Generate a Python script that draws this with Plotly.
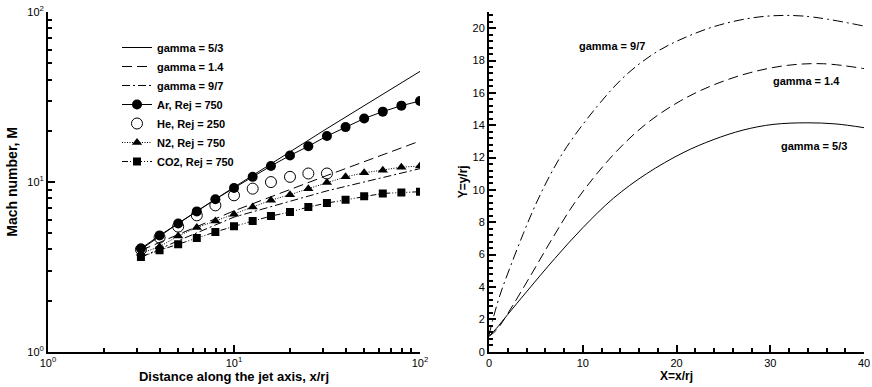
import plotly.graph_objects as go

# ---------------- Left panel data (log-log) ----------------
x_pts = [3.16, 3.98, 5.01, 6.31, 7.94, 10.0, 12.6, 15.8, 20.0, 25.1, 31.6, 39.8, 50.1, 63.1, 79.4, 100.0]
ar_M = [4.05, 4.84, 5.68, 6.7, 7.9, 9.2, 10.7, 12.4, 14.3, 16.2, 18.6, 21.0, 23.6, 25.9, 28.1, 29.9]
he_x = x_pts[:11]
he_M = [4.0, 4.7, 5.45, 6.35, 7.27, 8.33, 9.12, 9.97, 10.7, 11.2, 11.2]
n2_M = [3.8, 4.15, 4.8, 5.38, 5.88, 6.44, 7.11, 7.8, 8.4, 9.12, 9.9, 10.7, 11.3, 11.7, 12.2, 12.4]
co2_M = [3.61, 3.96, 4.29, 4.67, 5.07, 5.47, 5.88, 6.29, 6.64, 7.11, 7.5, 7.85, 8.22, 8.55, 8.65, 8.75]

g_x = [3.16, 5.01, 10.0, 31.6, 100.0]
g53_M = [4.0, 5.7, 9.3, 20.6, 44.7]
g14_M = [3.95, 4.9, 6.75, 10.9, 17.4]
g97_M = [3.6, 4.5, 6.2, 8.85, 11.96]

# ---------------- Right panel data ----------------
r53_x = [0, 0.8, 2, 4, 7, 10, 13.3, 16.8, 20.7, 23.9, 27.1, 30.3, 33.9, 37, 40]
r53_y = [0.95, 1.45, 2.3, 3.7, 5.75, 7.66, 9.5, 11.0, 12.3, 13.1, 13.7, 14.05, 14.15, 14.08, 13.85]
r14_x = [0, 0.8, 2.24, 4.37, 6.86, 9.35, 13.3, 16.8, 20.4, 23.9, 27.8, 31.8, 35.7, 40]
r14_y = [0.95, 1.34, 2.58, 4.64, 7.1, 9.38, 12.2, 14.1, 15.5, 16.48, 17.24, 17.7, 17.8, 17.5]
r97_x = [0, 0.46, 1.17, 2.24, 3.66, 4.9, 6.5, 8.3, 11.5, 14.6, 17.9, 21.1, 24.6, 28.9, 33.5, 40]
r97_y = [1.0, 2.1, 3.5, 5.2, 7.3, 9.0, 10.9, 12.67, 15.14, 17.1, 18.54, 19.47, 20.2, 20.7, 20.75, 20.13]

log_tickvals = [1, 10, 100]
log_ticktext = ["10<sup>0</sup>", "10<sup>1</sup>", "10<sup>2</sup>"]
log_minor = [2, 3, 4, 5, 6, 7, 8, 9, 20, 30, 40, 50, 60, 70, 80, 90]

FONT = "Liberation Sans, Arial, sans-serif"
DASH = "10px,5px"
DASHDOT = "8px,3px,2px,3px"
DOT = "1px,1.5px"
DASHDOTDOT = "6px,2px,1px,2px,1px,2px"

fig = go.Figure()

fig.add_trace(go.Scatter(x=g_x, y=g53_M, mode="lines", name="<b>gamma = 5/3</b>",
                         line=dict(color="black", width=1), xaxis="x", yaxis="y"))
fig.add_trace(go.Scatter(x=g_x, y=g14_M, mode="lines", name="<b>gamma = 1.4</b>",
                         line=dict(color="black", width=1, dash=DASH), xaxis="x", yaxis="y"))
fig.add_trace(go.Scatter(x=g_x, y=g97_M, mode="lines", name="<b>gamma = 9/7</b>",
                         line=dict(color="black", width=1, dash=DASHDOT), xaxis="x", yaxis="y"))
fig.add_trace(go.Scatter(x=x_pts, y=ar_M, mode="lines+markers", name="<b>Ar, Rej = 750</b>",
                         line=dict(color="black", width=1),
                         marker=dict(symbol="circle", size=10, color="black"), xaxis="x", yaxis="y"))
fig.add_trace(go.Scatter(x=he_x, y=he_M, mode="markers", name="<b>He, Rej = 250</b>",
                         marker=dict(symbol="circle-open", size=11, color="black", line=dict(width=1)),
                         xaxis="x", yaxis="y"))
fig.add_trace(go.Scatter(x=x_pts, y=n2_M, mode="lines+markers", name="<b>N2, Rej = 750</b>",
                         line=dict(color="black", width=1, dash=DOT),
                         marker=dict(symbol="triangle-up", size=9, color="black"), xaxis="x", yaxis="y"))
fig.add_trace(go.Scatter(x=x_pts, y=co2_M, mode="lines+markers", name="<b>CO2, Rej = 750</b>",
                         line=dict(color="black", width=1, dash=DASHDOTDOT),
                         marker=dict(symbol="square", size=8, color="black"), xaxis="x", yaxis="y"))

fig.add_trace(go.Scatter(x=r53_x, y=r53_y, mode="lines", showlegend=False, line_shape="spline",
                         line=dict(color="black", width=1), xaxis="x2", yaxis="y2"))
fig.add_trace(go.Scatter(x=r14_x, y=r14_y, mode="lines", showlegend=False, line_shape="spline",
                         line=dict(color="black", width=1, dash=DASH), xaxis="x2", yaxis="y2"))
fig.add_trace(go.Scatter(x=r97_x, y=r97_y, mode="lines", showlegend=False, line_shape="spline",
                         line=dict(color="black", width=1, dash="10px,4px,2px,4px"), xaxis="x2", yaxis="y2"))

W, H = 872, 387


def px_x(p):
    return p / W


def px_y(p):
    return 1 - p / H


y_dom = [px_y(351.7), px_y(12)]

axis_common = dict(showgrid=False, zeroline=False, showline=True, linecolor="black", linewidth=2,
                   ticks="inside", ticklen=7, tickwidth=2, tickcolor="black", automargin=False,
                   ticklabeloverflow="allow",
                   tickfont=dict(family=FONT, size=11, color="black"), mirror=False)

fig.update_layout(
    width=W, height=H,
    margin=dict(l=0, r=0, t=0, b=0, pad=0),
    paper_bgcolor="white", plot_bgcolor="white",
    font=dict(family=FONT, color="black"),
    xaxis=dict(type="log", range=[0, 2], domain=[px_x(48), px_x(420)], anchor="y",
               tickvals=log_tickvals, ticktext=log_ticktext,
               minor=dict(tickvals=log_minor, ticks="inside", ticklen=4, tickwidth=1.5, tickcolor="black", showgrid=False),
               title=dict(text="<b>Distance along the jet axis, x/rj</b>", font=dict(family=FONT, size=13), standoff=3),
               **axis_common),
    yaxis=dict(type="log", range=[0, 2], domain=y_dom, anchor="x",
               tickvals=log_tickvals, ticktext=log_ticktext,
               minor=dict(tickvals=log_minor, ticks="inside", ticklen=4, tickwidth=1.5, tickcolor="black", showgrid=False),
               title=dict(text="<b>Mach number, M</b>", font=dict(family=FONT, size=14), standoff=6),
               **axis_common),
    xaxis2=dict(range=[0, 40], domain=[px_x(489), px_x(864)], anchor="y2", dtick=10,
                minor=dict(dtick=2, ticks="inside", ticklen=4, tickwidth=1.5, tickcolor="black", showgrid=False),
                title=dict(text="<b>X=x/rj</b>", font=dict(family=FONT, size=12), standoff=2),
                **axis_common),
    yaxis2=dict(range=[0, 21], domain=y_dom, anchor="x2", dtick=2,
                minor=dict(dtick=0.4, ticks="inside", ticklen=4, tickwidth=1.5, tickcolor="black", showgrid=False),
                title=dict(text="<b>Y=y/rj</b>", font=dict(family=FONT, size=12), standoff=2),
                **axis_common),
    legend=dict(x=px_x(117), y=px_y(33), xanchor="left", yanchor="top",
                bgcolor="rgba(0,0,0,0)", font=dict(family=FONT, size=11, color="black"),
                tracegroupgap=0, itemwidth=30),
    annotations=[
        dict(x=13.1, y=18.9, xref="x2", yref="y2", text="<b>gamma = 9/7</b>", showarrow=False,
             font=dict(family=FONT, size=11, color="black")),
        dict(x=33.9, y=16.73, xref="x2", yref="y2", text="<b>gamma = 1.4</b>", showarrow=False,
             font=dict(family=FONT, size=11, color="black")),
        dict(x=34.7, y=12.73, xref="x2", yref="y2", text="<b>gamma = 5/3</b>", showarrow=False,
             font=dict(family=FONT, size=11, color="black")),
    ],
)

fig.write_html("out.html",
               config={"displayModeBar": False},
               post_script="document.body.style.margin='0';document.body.style.overflow='hidden';")
